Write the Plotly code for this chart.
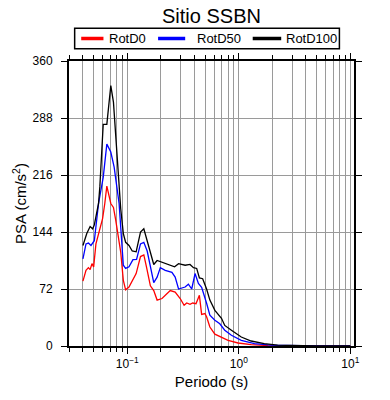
import plotly.graph_objects as go

# RotD100 (black)
t_d100 = [0.040, 0.0433, 0.0464, 0.0489, 0.0506, 0.0552, 0.0567, 0.0608, 0.0655, 0.0711,
          0.0751, 0.0815, 0.0872, 0.0921, 0.0966, 0.1035, 0.1107, 0.120, 0.1313, 0.1406,
          0.1507, 0.161, 0.1726, 0.185, 0.2047, 0.2348, 0.2654, 0.2881, 0.330, 0.365,
          0.392, 0.419, 0.443, 0.474, 0.514, 0.550, 0.610, 0.699, 0.748, 0.858,
          1.052, 1.29, 1.69, 2.23, 2.93, 5.0, 10.0]
psa_d100 = [127, 142, 151, 148, 153, 180, 201, 280, 280, 329,
            308, 232, 174, 142, 131, 127, 120, 119, 144, 148,
            133, 119, 103, 108, 106, 103, 100, 104, 102, 103,
            99, 98, 86, 85, 72, 58, 45, 35, 26, 20,
            11.4, 6.3, 3, 1, 0.5, 0.2, 0.1]

# RotD50 (blue)
t_d50 = [0.040, 0.0426, 0.0448, 0.0472, 0.0506, 0.0552, 0.0608, 0.0655, 0.0711, 0.0762,
         0.0844, 0.0921, 0.0966, 0.1035, 0.1124, 0.121, 0.1313, 0.1406, 0.1507, 0.161,
         0.1726, 0.185, 0.1977, 0.2188, 0.2512, 0.2686, 0.2881, 0.330, 0.353, 0.378,
         0.405, 0.434, 0.464, 0.514, 0.550, 0.610, 0.675, 0.748, 0.858, 1.052,
         1.38, 1.94, 3.0, 5.0, 10.0]
psa_d50 = [110, 129, 130, 127, 133, 180, 213, 255, 245, 226,
           180, 102, 98, 100, 109, 109.5, 129, 131, 120, 100,
           80, 87, 99, 95.6, 93, 87, 72, 74.5, 78, 72,
           91.5, 79, 74, 54, 39, 32.5, 28, 20, 13.5, 7.2,
           3, 1, 0.4, 0.15, 0.05]

# RotD0 (red)
t_d0 = [0.040, 0.0426, 0.0448, 0.0464, 0.0482, 0.0499, 0.0523, 0.0560, 0.0600, 0.0628,
        0.0655, 0.0711, 0.0751, 0.0787, 0.0872, 0.0921, 0.0966, 0.1035, 0.1107, 0.1148,
        0.120, 0.1313, 0.1406, 0.1485, 0.161, 0.1726, 0.185, 0.2047, 0.2427, 0.2686,
        0.298, 0.323, 0.341, 0.365, 0.386, 0.413, 0.434, 0.443, 0.464, 0.497,
        0.514, 0.550, 0.610, 0.699, 0.801, 0.984, 1.29, 1.82, 3.0, 10.0]
psa_d0 = [82, 95.6, 99, 96.5, 104, 100, 129, 144, 161, 180,
          202, 180, 175, 159, 119, 83, 71, 74.5, 83, 87,
          91.5, 113, 115, 100, 76, 70, 58, 60, 70, 68,
          60, 51.4, 54.3, 52.7, 54.3, 53.5, 62, 64, 40, 41,
          37, 24, 15, 10.6, 7.2, 3.8, 1.8, 0.5, 0.2, 0.05]

series_names = ["RotD0", "RotD50", "RotD100"]
series_colors = ["#ff0000", "#0000ff", "#000000"]

y_ticks = [0, 72, 144, 216, 288, 360]
x_major = [0.1, 1, 10]
x_major_text = ["10<sup>−1</sup>", "10<sup>0</sup>", "10<sup>1</sup>"]
x_minor = [m * d for d in (0.01, 0.1, 1) for m in range(2, 10)]

FONT = "Liberation Sans, Arial, sans-serif"
W, H = 382, 392
ML, MR, MT, MB = 59, 36, 53, 54
PW, PH = W - ML - MR, H - MT - MB


def px_x(fx):
    return (fx - ML) / PW


def px_y(fy):
    return 1 - (fy - MT) / PH


fig = go.Figure()
for t, v, name, col in zip((t_d0, t_d50, t_d100), (psa_d0, psa_d50, psa_d100),
                           series_names, series_colors):
    fig.add_trace(go.Scatter(x=t, y=v, mode="lines", name=name, showlegend=False,
                             line=dict(color=col, width=1.3)))

# legend box drawn above the plot (GMT style)
shapes = [dict(type="rect", xref="paper", yref="paper",
               x0=px_x(64.7), x1=px_x(331.3), y0=px_y(40.7), y1=px_y(20.3),
               line=dict(color="black", width=1.5), fillcolor="white", layer="above")]
annotations = []
sample_starts = [71.3, 148.7, 244.0]
sample_ends = [93.7, 176.0, 272.7]
text_starts = [98.7, 187.0, 277.0]
ly = px_y(30.5)
for s0, s1, tx, name, col in zip(sample_starts, sample_ends, text_starts,
                                 series_names, series_colors):
    shapes.append(dict(type="line", xref="paper", yref="paper",
                       x0=px_x(s0), x1=px_x(s1), y0=ly, y1=ly,
                       line=dict(color=col, width=3.5), layer="above"))
    annotations.append(dict(text=name, xref="paper", yref="paper", x=px_x(tx), y=ly,
                            xanchor="left", yanchor="middle", showarrow=False,
                            font=dict(size=13, color="black"), xshift=-1))

fig.update_layout(
    width=W, height=H,
    margin=dict(l=ML, r=MR, t=MT, b=MB),
    paper_bgcolor="white", plot_bgcolor="white",
    font=dict(family=FONT, size=12, color="black"),
    title=dict(text="Sitio SSBN", x=0.5, xref="paper", xanchor="center",
               yref="container", y=1 - 8.0 / H, yanchor="middle",
               font=dict(size=20)),
    shapes=shapes, annotations=annotations,
    showlegend=False,
)
fig.update_xaxes(
    type="log", range=[-1.523, 1.033],
    tickmode="array", tickvals=x_major, ticktext=x_major_text,
    ticks="outside", ticklen=6, tickwidth=1, tickcolor="black",
    showgrid=True, gridcolor="#9a9a9a", gridwidth=1,
    minor=dict(tickmode="array", tickvals=x_minor, ticks="outside", ticklen=4,
               tickcolor="black", showgrid=True, gridcolor="#9a9a9a", gridwidth=1),
    showline=True, linecolor="black", linewidth=2, mirror="ticks",
    zeroline=False,
    title=dict(text="Periodo (s)", font=dict(size=15), standoff=6),
    tickfont=dict(size=12),
)
fig.update_yaxes(
    range=[0, 360], tickmode="array", tickvals=y_ticks,
    ticks="outside", ticklen=6, tickwidth=1, tickcolor="black",
    showgrid=True, gridcolor="#9a9a9a", gridwidth=1,
    showline=True, linecolor="black", linewidth=2, mirror="ticks",
    zeroline=False, ticklabelstandoff=6,
    title=dict(text="PSA (cm/s<sup>2</sup>)", font=dict(size=15), standoff=2),
    tickfont=dict(size=12),
)

fig.write_html("out.html")
